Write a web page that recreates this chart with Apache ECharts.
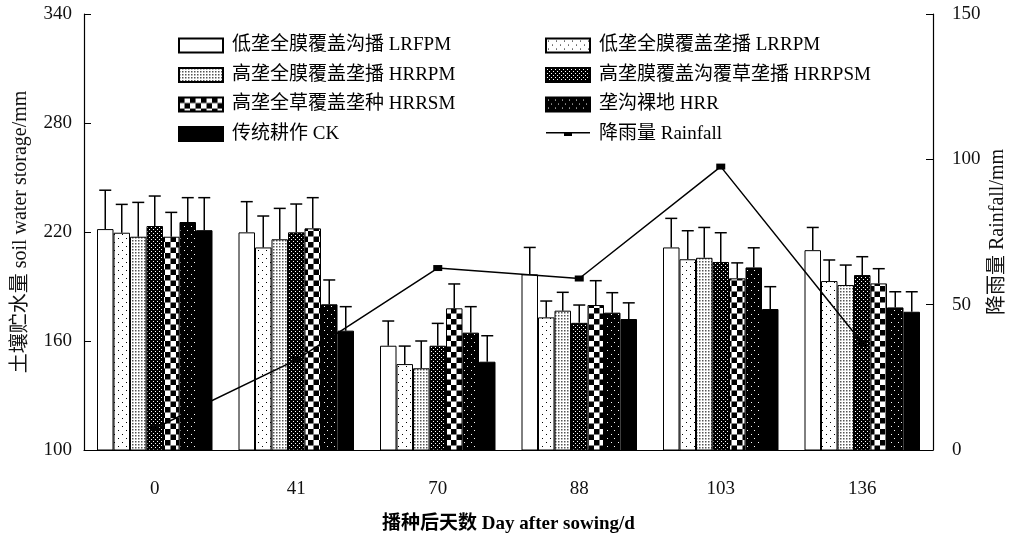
<!DOCTYPE html>
<html>
<head>
<meta charset="utf-8">
<script src="https://cdn.jsdelivr.net/npm/echarts@6/dist/echarts.min.js"></script>
<style>
  html, body { margin: 0; padding: 0; background: #fff; }
  #main { width: 1011px; height: 537px; }
</style>
</head>
<body>
<div id="main"></div>
<script>
const days = ["0", "41", "70", "88", "103", "136"];

const names = [
  "低垄全膜覆盖沟播 LRFPM",
  "低垄全膜覆盖垄播 LRRPM",
  "高垄全膜覆盖垄播 HRRPM",
  "高垄膜覆盖沟覆草垄播 HRRPSM",
  "高垄全草覆盖垄种 HRRSM",
  "垄沟裸地 HRR",
  "传统耕作 CK"
];
const rainName = "降雨量 Rainfall";

// soil water storage (mm)
const lrfpm = [221.6, 219.8, 157.4, 196.7, 211.5, 210.0];
const lrrpm = [219.6, 211.5, 147.3, 173.0, 205.0, 193.0];
const hrrpm = [217.4, 216.0, 145.0, 176.7, 205.8, 190.8];
const hrrpsm = [223.3, 219.8, 157.4, 170.0, 203.5, 196.3];
const hrrsm = [217.4, 222.0, 178.0, 179.8, 194.5, 191.7];
const hrr = [225.5, 180.2, 164.6, 175.6, 200.5, 178.5];
const ck = [221.0, 165.7, 148.6, 172.1, 177.6, 176.1];

// top of error bars (mm)
const lrfpmTop = [243.0, 236.7, 171.0, 211.5, 227.5, 222.5];
const lrrpmTop = [235.2, 228.8, 157.2, 182.0, 220.7, 204.6];
const hrrpmTop = [236.3, 233.0, 160.0, 186.8, 222.5, 201.8];
const hrrpsmTop = [239.8, 235.4, 169.7, 179.8, 219.6, 206.4];
const hrrsmTop = [230.8, 238.9, 191.4, 193.2, 203.0, 199.8];
const hrrTop = [238.9, 193.6, 178.9, 186.6, 211.3, 187.1];
const ckTop = [238.9, 178.9, 162.9, 181.0, 189.9, 187.1];

// rainfall (mm)
const rainfall = [7.5, 31, 62.6, 59, 97.5, 36.8];

const leftTicks = [100, 160, 220, 280, 340];
const rightTicks = [0, 50, 100, 150];

const values = [lrfpm, lrrpm, hrrpm, hrrpsm, hrrsm, hrr, ck];
const tops = [lrfpmTop, lrrpmTop, hrrpmTop, hrrpsmTop, hrrsmTop, hrrTop, ckTop];

const font = '"Liberation Serif", "Noto Sans CJK SC", serif';
const barW = 16.5;

function makeTile(w, h, bg, fg, dots) {
  const c = document.createElement("canvas");
  c.width = w;
  c.height = h;
  const ctx = c.getContext("2d");
  ctx.fillStyle = bg;
  ctx.fillRect(0, 0, w, h);
  ctx.fillStyle = fg;
  dots.forEach(d => ctx.fillRect(d[0], d[1], d[2], d[3]));
  return { image: c, repeat: "repeat" };
}

const fills = [
  "#fff",
  makeTile(8, 8, "#fff", "#000", [[2, 2, 1, 1], [6, 6, 1, 1]]),
  makeTile(3, 3, "#fff", "#555", [[0, 0, 1.5, 1.5]]),
  makeTile(4, 4, "#000", "#fff", [[1, 1, 1, 1], [3, 3, 1, 1]]),
  makeTile(11, 11, "#fff", "#000", [[0, 0, 5.5, 5.5], [5.5, 5.5, 5.5, 5.5]]),
  makeTile(7, 8, "#000", "#fff", [[2, 2, 1, 1], [5, 6, 1, 1]]),
  "#000"
];

let series = [];
names.forEach((n, i) => {
  series.push({
    name: n,
    type: "bar",
    barWidth: barW,
    barGap: "0%",
    data: values[i],
    itemStyle: { color: fills[i], borderColor: "#000", borderWidth: 1 },
    z: 2
  });
});

names.forEach((n, i) => {
  series.push({
    type: "custom",
    data: values[i].map((v, k) => [k, v, tops[i][k]]),
    renderItem: function (params, api) {
      const base = api.coord([api.value(0), api.value(1)]);
      const top = api.coord([api.value(0), api.value(2)]);
      const x = base[0] + (i - 3) * barW;
      const style = { stroke: "#000", lineWidth: 1.5 };
      return {
        type: "group",
        children: [
          { type: "line", shape: { x1: x, y1: base[1], x2: x, y2: top[1] }, style: style },
          { type: "line", shape: { x1: x - 6, y1: top[1], x2: x + 6, y2: top[1] }, style: style }
        ]
      };
    },
    z: 3,
    silent: true
  });
});

series.push({
  name: rainName,
  type: "line",
  yAxisIndex: 1,
  data: rainfall,
  symbol: "rect",
  symbolSize: [9, 6],
  showAllSymbol: true,
  itemStyle: { color: "#000" },
  lineStyle: { color: "#000", width: 1.5 },
  z: 5
});

const legendText = { fontFamily: font, fontSize: 19, color: "#000", padding: [0, 0, 0, 4] };

const legendBase = {
  orient: "vertical",
  top: 36,
  padding: 0,
  itemWidth: 44,
  itemHeight: 14,
  itemGap: 10.5,
  icon: "rect",
  textStyle: legendText
};

const option = {
  animation: false,
  backgroundColor: "#fff",
  grid: { left: 84, right: 78, top: 14, bottom: 87, outerBoundsMode: "none", containLabel: false },
  legend: [
    Object.assign({}, legendBase, {
      left: 178,
      data: [names[0], names[2], names[4], names[6]]
    }),
    Object.assign({}, legendBase, {
      left: 545,
      data: [names[1], names[3], names[5], { name: rainName, icon: "path://M0,6 L44,6 L44,7.5 L0,7.5 Z M18,7 L26,7 L26,10 L18,10 Z" }]
    })
  ],
  xAxis: {
    type: "category",
    data: days,
    name: "播种后天数 Day after sowing/d",
    nameLocation: "middle",
    nameGap: 65,
    nameTextStyle: { fontFamily: font, fontSize: 19, fontWeight: "bold", color: "#000" },
    axisLine: { lineStyle: { color: "#000", width: 1.2 } },
    axisTick: { inside: true, length: 5, lineStyle: { color: "#000" } },
    axisLabel: { fontFamily: font, fontSize: 19, color: "#111", margin: 30 }
  },
  yAxis: [
    {
      type: "value",
      min: 100,
      max: 340,
      interval: 60,
      name: "土壤贮水量 soil water storage/mm",
      nameLocation: "middle",
      nameGap: 53,
      nameMoveOverlap: false,
      nameTextStyle: { fontFamily: font, fontSize: 20, color: "#111" },
      axisLine: { show: true, lineStyle: { color: "#000", width: 1.2 } },
      axisTick: { show: true, inside: true, length: 7, lineStyle: { color: "#000" } },
      axisLabel: { fontFamily: font, fontSize: 19, color: "#111", margin: 12 },
      splitLine: { show: false }
    },
    {
      type: "value",
      min: 0,
      max: 150,
      interval: 50,
      position: "right",
      name: "降雨量 Rainfall/mm",
      nameLocation: "middle",
      nameGap: 55,
      nameMoveOverlap: false,
      nameRotate: 90,
      nameTextStyle: { fontFamily: font, fontSize: 20, color: "#111" },
      axisLine: { show: true, lineStyle: { color: "#000", width: 1.2 } },
      axisTick: { show: true, inside: true, length: 7, lineStyle: { color: "#000" } },
      axisLabel: { fontFamily: font, fontSize: 19, color: "#111", margin: 19 },
      splitLine: { show: false }
    }
  ],
  series: series
};

const chart = echarts.init(document.getElementById("main"));
chart.setOption(option);
</script>
</body>
</html>
